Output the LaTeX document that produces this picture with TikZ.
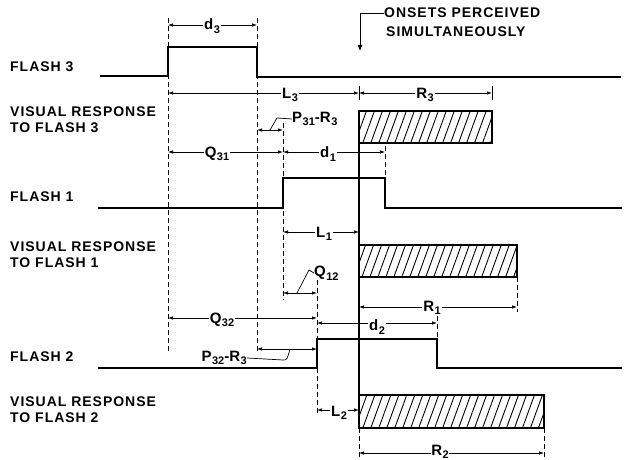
\documentclass[tikz,border=0pt]{standalone}
\usepackage{fontspec}
\setmainfont{Liberation Sans}
\usetikzlibrary{arrows.meta,patterns.meta}
\tikzset{
  pulse/.style={line width=1.8pt},
  dim/.style={line width=0.7pt,{Latex[length=5pt,width=3.5pt]}-{Latex[length=5pt,width=3.5pt]}},
  ext/.style={line width=0.7pt,dash pattern=on 5pt off 3pt},
  resp/.style={draw,line width=1.5pt,pattern={Lines[angle=70,distance=7.5pt,line width=0.9pt]}},
  lbl/.style={font=\bfseries\fontsize{15}{16}\selectfont,fill=white,inner sep=1.2pt},
  ldr/.style={lbl,fill=none,inner sep=0pt},
  side/.style={font=\bfseries\fontsize{14}{16}\selectfont\addfontfeature{LetterSpace=7},anchor=west,align=left,inner sep=0pt}
}
\newcommand{\dimlab}[2]{#1\kern0.5pt\raisebox{-0.45ex}{\fontsize{11}{11}\selectfont #2}}

\begin{document}
\begin{tikzpicture}[x=1pt,y=-1pt]
\useasboundingbox (0,0) rectangle (627,460);
\node[side] (fl3) at (10,67) {FLASH 3};
\node[side] (vr3) at (10,120) {VISUAL RESPONSE\\TO FLASH 3};
\node[side] (fl1) at (10,197) {FLASH 1};
\node[side] (vr1) at (10,255) {VISUAL RESPONSE\\TO FLASH 1};
\node[side] (fl2) at (10,357) {FLASH 2};
\node[side] (vr2) at (10,410) {VISUAL RESPONSE\\TO FLASH 2};
\node[side] (ons1) at (384,13) {ONSETS PERCEIVED};
\node[side] (ons2) at (386,32) {SIMULTANEOUSLY};
\coordinate (onsarr) at (360,51);
\draw[line width=0.9pt,-{Latex[length=6pt,width=5pt]}] (ons1.west) -| (onsarr);
% flashes
\draw[pulse] (100,76) -- (168,76) -- (168,47) -- (257,47) -- (257,77) -- (621,77);
\draw[pulse] (98,208) -- (283,208) -- (283,178) -- (385,178) -- (385,208) -- (622,208);
\draw[pulse] (98,368) -- (317,368) -- (317,339) -- (437,339) -- (437,368) -- (622,368);
% responses
\draw[resp] (359,111) rectangle (492,143);
\draw[resp] (359,245) rectangle (517,277);
\draw[resp] (359,395) rectangle (544,428);
\draw[line width=2.2pt] (359,111) -- (359,395);
% extension lines
\draw[ext] (168,18) -- (168,352);
\draw[ext] (257,18) -- (257,352);
\draw[ext] (283,123) -- (283,300);
\draw[ext] (317,280) -- (317,414);
\draw[ext] (385,146) -- (385,178);
\draw[ext] (437,316) -- (437,339);
\draw[ext] (517,277) -- (517,312);
\draw[ext] (544,428) -- (544,458);
\draw[ext] (359,428) -- (359,458);
\draw[line width=0.7pt] (359,86) -- (359,100) (492,86) -- (492,100);
% dimensions
\draw[dim] (168,25) -- (257,25);
\node[lbl] (d3) at (212,26) {\dimlab{d}{3}};
\draw[dim] (168,93) -- (359,93);
\node[lbl] (l3) at (290,95) {\dimlab{L}{3}};
\draw[dim] (359,93) -- (492,93);
\node[lbl] (r3) at (425,95) {\dimlab{R}{3}};
\draw[dim] (257,130) -- (283,130);
\node[ldr,anchor=west] (p31) at (292,119) {\dimlab{P}{31}-\dimlab{R}{3}};
\draw[line width=0.7pt] (270,130) -- (277,118) -- (p31.west);
\draw[dim] (168,152) -- (283,152);
\node[lbl] (q31) at (217,154) {\dimlab{Q}{31}};
\draw[dim] (283,152) -- (385,152);
\node[lbl] (d1) at (328,154) {\dimlab{d}{1}};
\draw[dim] (283,232) -- (359,232);
\node[lbl] (l1) at (324,234) {\dimlab{L}{1}};
\draw[dim] (283,293) -- (317,293);
\node[ldr,anchor=west] (q12) at (314,273) {\dimlab{Q}{12}};
\draw[line width=0.7pt] (297,293) -- (309,270) -- (q12.west);
\draw[dim] (359,307) -- (517,307);
\node[lbl] (r1) at (432,308) {\dimlab{R}{1}};
\draw[dim] (168,318) -- (317,318);
\node[lbl] (q32) at (222,320) {\dimlab{Q}{32}};
\draw[dim] (317,323) -- (437,323);
\node[lbl] (d2) at (377,327) {\dimlab{d}{2}};
\draw[dim] (257,349) -- (317,349);
\node[ldr,anchor=east] (p32) at (247,358) {\dimlab{P}{32}-\dimlab{R}{3}};
\draw[line width=0.7pt] (p32.east) -- (283,360) .. controls (287,360) .. (290,349);
\draw[dim] (317,410) -- (359,410);
\node[lbl] (l2) at (339,413) {\dimlab{L}{2}};
\draw[dim] (359,453) -- (544,453);
\node[lbl,inner sep=0.5pt] (r2) at (440,452) {\dimlab{R}{2}};
\end{tikzpicture}
\end{document}
